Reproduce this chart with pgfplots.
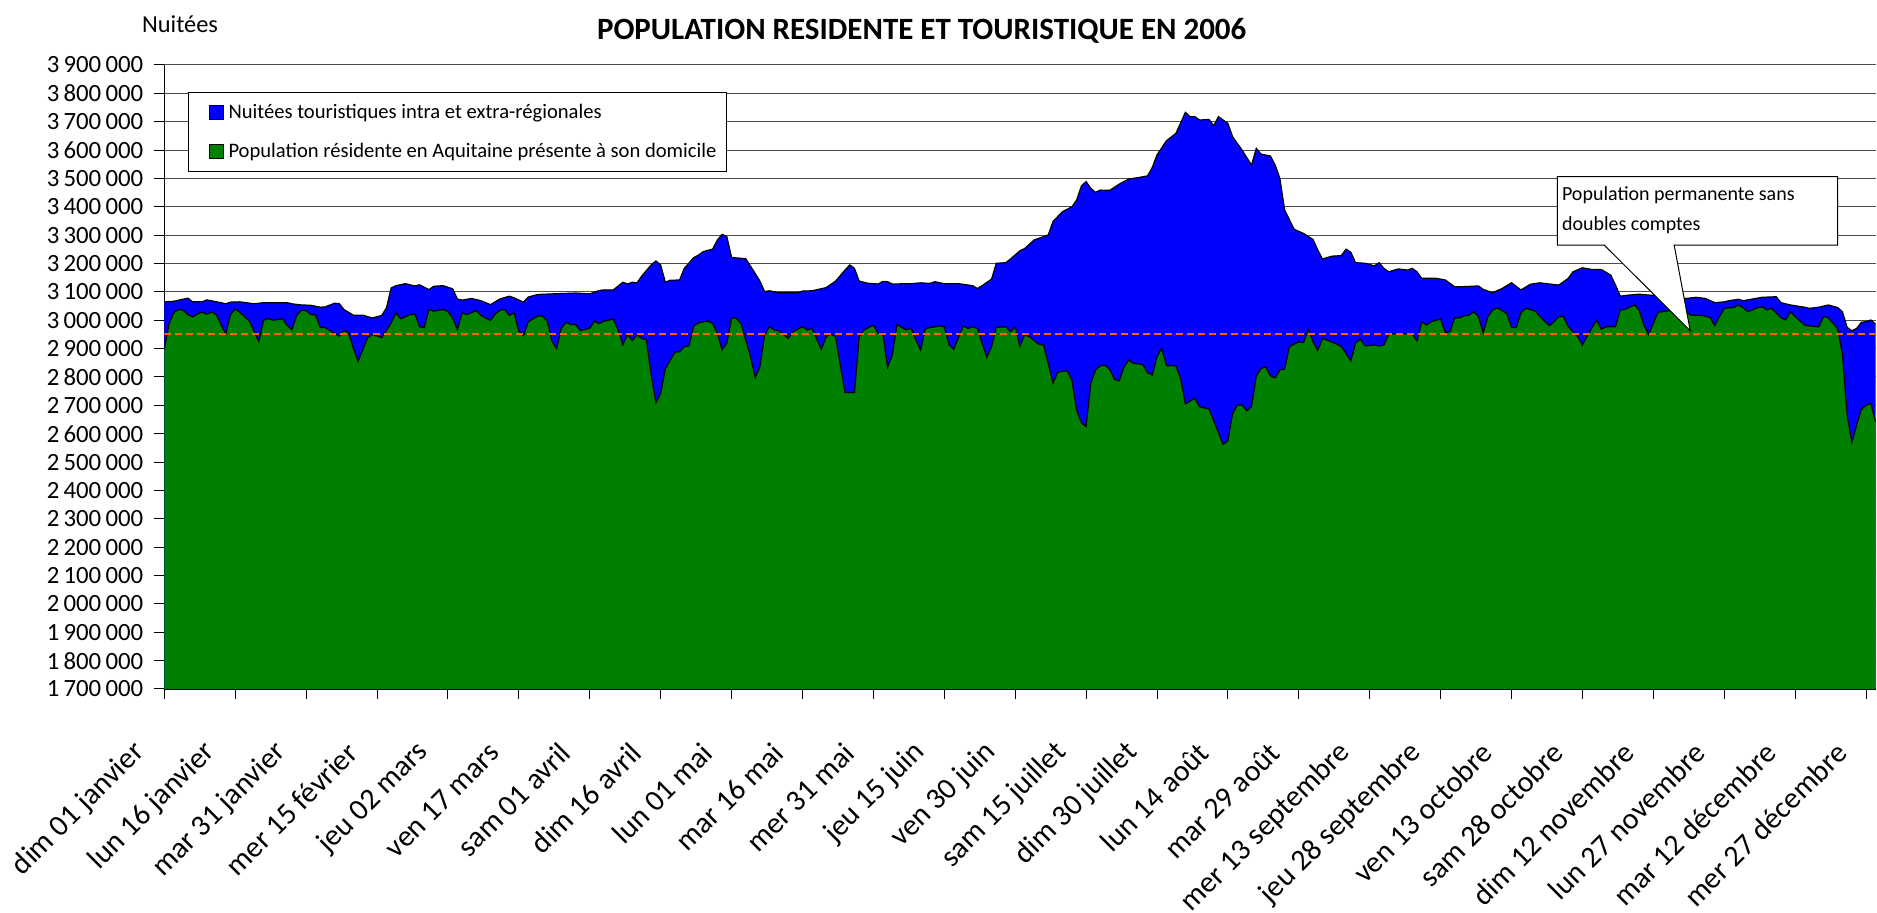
\documentclass[border=0pt]{standalone}
\usepackage{fontspec}
\setmainfont{Carlito}
\usepackage{pgfplots}
\usepackage{pgfplotstable}
\pgfplotsset{compat=1.18}

\definecolor{tourblue}{RGB}{0,0,255}
\definecolor{resgreen}{RGB}{0,128,0}
\definecolor{dashorange}{RGB}{255,102,0}

% total = resident + tourist nights (top of the blue area)
\pgfplotstableread{
day total
0 3065
2 3067
5 3078
6 3065
8 3065
9 3072
12 3062
13 3058
14 3064
16 3065
19 3058
21 3062
26 3062
27 3058
29 3054
31 3053
33 3046
34 3047
36 3060
37 3059
38 3038
40 3018
42 3018
44 3008
46 3017
47 3044
48 3114
49 3122
51 3129
53 3121
54 3125
56 3108
57 3120
59 3122
61 3111
62 3075
63 3071
65 3077
67 3069
69 3055
71 3075
73 3085
74 3079
76 3064
77 3082
79 3091
82 3093
87 3096
90 3093
92 3105
93 3107
95 3107
97 3134
98 3128
99 3134
100 3132
101 3156
103 3195
104 3209
105 3195
106 3134
107 3141
109 3142
110 3183
112 3221
113 3230
114 3242
116 3251
117 3283
118 3303
119 3295
120 3222
121 3220
123 3217
125 3165
126 3138
127 3101
128 3104
130 3097
134 3097
135 3103
137 3104
140 3115
142 3138
144 3177
145 3195
146 3183
147 3138
149 3130
151 3128
152 3137
153 3136
154 3128
158 3129
160 3132
162 3130
163 3136
165 3129
168 3129
171 3122
172 3112
173 3122
175 3145
176 3201
178 3203
179 3216
181 3245
182 3253
183 3268
184 3283
187 3301
188 3348
190 3383
192 3400
193 3424
194 3473
195 3489
196 3465
197 3451
198 3459
200 3458
202 3480
204 3498
206 3503
208 3509
209 3539
210 3583
212 3633
214 3659
216 3733
217 3718
218 3718
219 3706
221 3708
222 3686
223 3718
225 3694
226 3647
228 3600
230 3547
231 3606
232 3586
234 3579
235 3547
236 3500
237 3389
239 3321
241 3306
243 3285
244 3248
245 3216
246 3221
247 3226
249 3228
250 3251
251 3240
252 3203
254 3201
256 3192
257 3203
258 3183
259 3171
261 3181
263 3177
264 3183
265 3171
266 3148
269 3148
271 3142
273 3118
274 3118
278 3121
279 3109
281 3097
283 3112
285 3132
287 3107
289 3127
291 3132
293 3128
295 3124
297 3148
298 3171
300 3185
302 3179
304 3179
306 3159
307 3124
308 3085
310 3089
312 3092
314 3089
317 3085
320 3080
322 3077
324 3081
326 3077
328 3062
330 3065
331 3069
333 3074
334 3069
336 3075
338 3081
341 3083
342 3062
344 3054
347 3046
348 3042
350 3046
352 3054
354 3045
355 3030
356 2975
357 2963
358 2971
359 2993
360 2995
361 3001
362 2987
}\totaltable

% resident population present at home (top of the green area)
\pgfplotstableread{
day resident
0 2897
1 2988
2 3026
3 3039
4 3035
5 3020
6 3012
7 3022
8 3029
9 3021
10 3029
11 3020
13 2950
14 3020
15 3040
16 3028
18 2997
19 2961
20 2924
21 3000
22 3006
23 3000
25 3005
26 2982
27 2967
28 3017
29 3035
30 3034
31 3020
32 3019
33 2975
34 2974
35 2964
37 2944
38 2965
39 2955
40 2902
41 2855
43 2938
44 2950
46 2939
48 2991
49 3026
50 3005
52 3020
53 3022
54 2977
55 2975
56 3038
57 3032
59 3038
60 3031
61 3008
62 2967
63 3026
64 3020
66 3034
67 3017
69 2999
70 3022
71 3035
72 3038
73 3017
74 3026
75 2961
76 2946
77 2995
79 3015
80 3015
81 2997
82 2926
83 2900
84 2973
85 2993
86 2985
87 2985
88 2964
90 2972
91 2997
92 2988
93 2997
95 3004
96 2966
97 2913
98 2950
99 2928
100 2948
101 2936
102 2930
103 2807
104 2709
105 2742
106 2830
108 2887
109 2889
110 2907
111 2910
112 2980
113 2991
115 2997
116 2989
117 2954
118 2895
119 2919
120 3009
121 3007
122 2989
124 2872
125 2797
126 2836
127 2948
128 2977
129 2966
130 2963
132 2936
133 2960
135 2977
136 2966
137 2971
139 2897
140 2942
141 2951
142 2942
144 2745
146 2745
147 2942
148 2966
150 2983
151 2954
152 2954
153 2834
154 2877
155 2985
156 2975
157 2966
158 2971
159 2930
160 2895
161 2971
162 2974
164 2980
165 2977
166 2913
167 2897
169 2980
170 2971
171 2977
172 2971
174 2869
175 2907
176 2975
178 2977
179 2960
180 2977
181 2907
182 2948
183 2942
185 2915
186 2913
187 2848
188 2778
189 2817
191 2822
192 2789
193 2683
194 2639
195 2625
196 2778
197 2825
198 2839
199 2842
200 2827
201 2792
202 2786
203 2834
204 2860
205 2848
207 2844
208 2815
209 2807
210 2872
211 2901
212 2840
214 2839
215 2795
216 2705
218 2725
219 2695
221 2687
224 2562
225 2575
226 2672
227 2701
228 2701
229 2681
230 2695
231 2803
232 2830
233 2836
234 2804
235 2797
236 2825
237 2828
238 2907
240 2924
241 2921
242 2968
243 2924
244 2893
245 2936
246 2930
248 2916
249 2907
251 2857
252 2919
253 2934
254 2910
256 2913
257 2909
258 2913
259 2950
261 2954
264 2951
265 2927
266 2995
267 2983
268 2995
270 3004
271 2956
272 2960
273 3009
274 3008
275 3016
276 3018
277 3030
278 3013
279 2956
280 3013
281 3036
282 3044
284 3024
285 2974
286 2974
287 3027
288 3042
290 3033
291 3013
293 2981
294 2995
295 3013
296 3013
297 2977
299 2942
300 2913
301 2944
303 3001
304 2968
305 2977
307 2977
308 3036
309 3038
311 3054
312 3036
313 2983
314 2950
316 3028
318 3033
320 3040
322 3028
323 3018
325 3018
327 3010
328 2981
329 3013
330 3042
332 3045
333 3054
334 3044
335 3030
337 3044
338 3048
339 3036
340 3042
342 3009
343 3001
344 3030
345 3013
347 2983
348 2980
350 2977
351 3013
352 3009
354 2970
355 2880
356 2665
357 2569
358 2630
359 2686
360 2700
361 2707
362 2642
}\residenttable

\begin{document}
\begin{tikzpicture}
\begin{axis}[
  scale only axis,
  width=855.6pt, height=312pt,
  xmin=0, xmax=362,
  ymin=1700000, ymax=3900000,
  axis lines*=left,
  axis line style={black, line width=0.6pt},
  tick align=outside,
  major tick length=5pt,
  tick style={black, line width=0.5pt},
  xtick={0,15,...,360},
  xticklabels={dim 01 janvier, lun 16 janvier, mar 31 janvier, mer 15 février,
    jeu 02 mars, ven 17 mars, sam 01 avril, dim 16 avril, lun 01 mai,
    mar 16 mai, mer 31 mai, jeu 15 juin, ven 30 juin, sam 15 juillet,
    dim 30 juillet, lun 14 août, mar 29 août, mer 13 septembre,
    jeu 28 septembre, ven 13 octobre, sam 28 octobre, dim 12 novembre,
    lun 27 novembre, mar 12 décembre, mer 27 décembre},
  x tick label style={font=\fontsize{15}{18}\selectfont, rotate=45, anchor=east,
    xshift=-22.4pt, yshift=-8.7pt},
  ytick distance=100000,
  scaled y ticks=false,
  y tick label style={font=\fontsize{12.4}{14}\selectfont, xshift=-2pt,
    /pgf/number format/.cd, fixed, precision=0, assume math mode=true,
    1000 sep={\hspace{0.17em}}},
  ymajorgrids,
  major grid style={black!70, line width=0.5pt},
  title={POPULATION RESIDENTE ET TOURISTIQUE EN 2006},
  title style={font=\bfseries\fontsize{15.5}{18}\selectfont, yshift=-6pt,
    at={(axis description cs:0.4426,1.0545)}, anchor=center},
  ylabel={Nuitées},
  ylabel style={font=\fontsize{12.2}{14}\selectfont, rotate=-90,
    at={(axis description cs:0.0092,1.0524)}, anchor=base},
  legend style={at={(axis description cs:0.01385,0.9567)}, anchor=north west,
    draw=black, line width=0.5pt, fill=white,
    font=\fontsize{10.3}{12}\selectfont,
    inner xsep=10pt, inner ysep=5.6pt, row sep=11pt, column sep=2.5pt,
    nodes={inner sep=0pt}},
  legend cell align=left,
  legend image code/.code={\draw[#1, draw=black, line width=0.5pt] (0pt,-3.5pt) rectangle (7pt,3.5pt);},
]
% blue: residents + tourist nights
\addplot[fill=tourblue, draw=none] table[x=day, y expr=\thisrow{total}*1000] {\totaltable} \closedcycle;
\addlegendentry{\makebox[239pt][l]{Nuitées touristiques intra et extra-régionales}}
% green: residents present at home
\addplot[fill=resgreen, draw=none] table[x=day, y expr=\thisrow{resident}*1000] {\residenttable} \closedcycle;
\addlegendentry{\makebox[239pt][l]{Population résidente en Aquitaine présente à son domicile}}
% outlines
\addplot[black, line width=0.6pt, forget plot] table[x=day, y expr=\thisrow{total}*1000] {\totaltable};
\addplot[black, line width=0.6pt, forget plot] table[x=day, y expr=\thisrow{resident}*1000] {\residenttable};
% permanent population without double counts
\addplot[dashorange, line width=1pt, dash pattern=on 3.5pt off 2pt, forget plot] coordinates {(0,2950000) (362,2950000)};
% callout
\draw[fill=white, line width=0.5pt]
  (axis cs:294.7,3506130) -- (axis cs:354.0,3506130) -- (axis cs:354.0,3265300)
  -- (axis cs:319.4,3265300) -- (axis cs:322.8,2963100) -- (axis cs:304.6,3265300)
  -- (axis cs:294.7,3265300) -- cycle;
\node[anchor=base west, inner sep=0pt, font=\fontsize{10}{12}\selectfont]
  at (axis cs:295.6,3421500) {Population permanente sans};
\node[anchor=base west, inner sep=0pt, font=\fontsize{10}{12}\selectfont]
  at (axis cs:295.6,3315730) {doubles comptes};
\end{axis}
\pgfresetboundingbox
\path[use as bounding box] (-82.15pt,-112pt) rectangle (856.35pt,344.5pt);
\end{tikzpicture}
\end{document}
